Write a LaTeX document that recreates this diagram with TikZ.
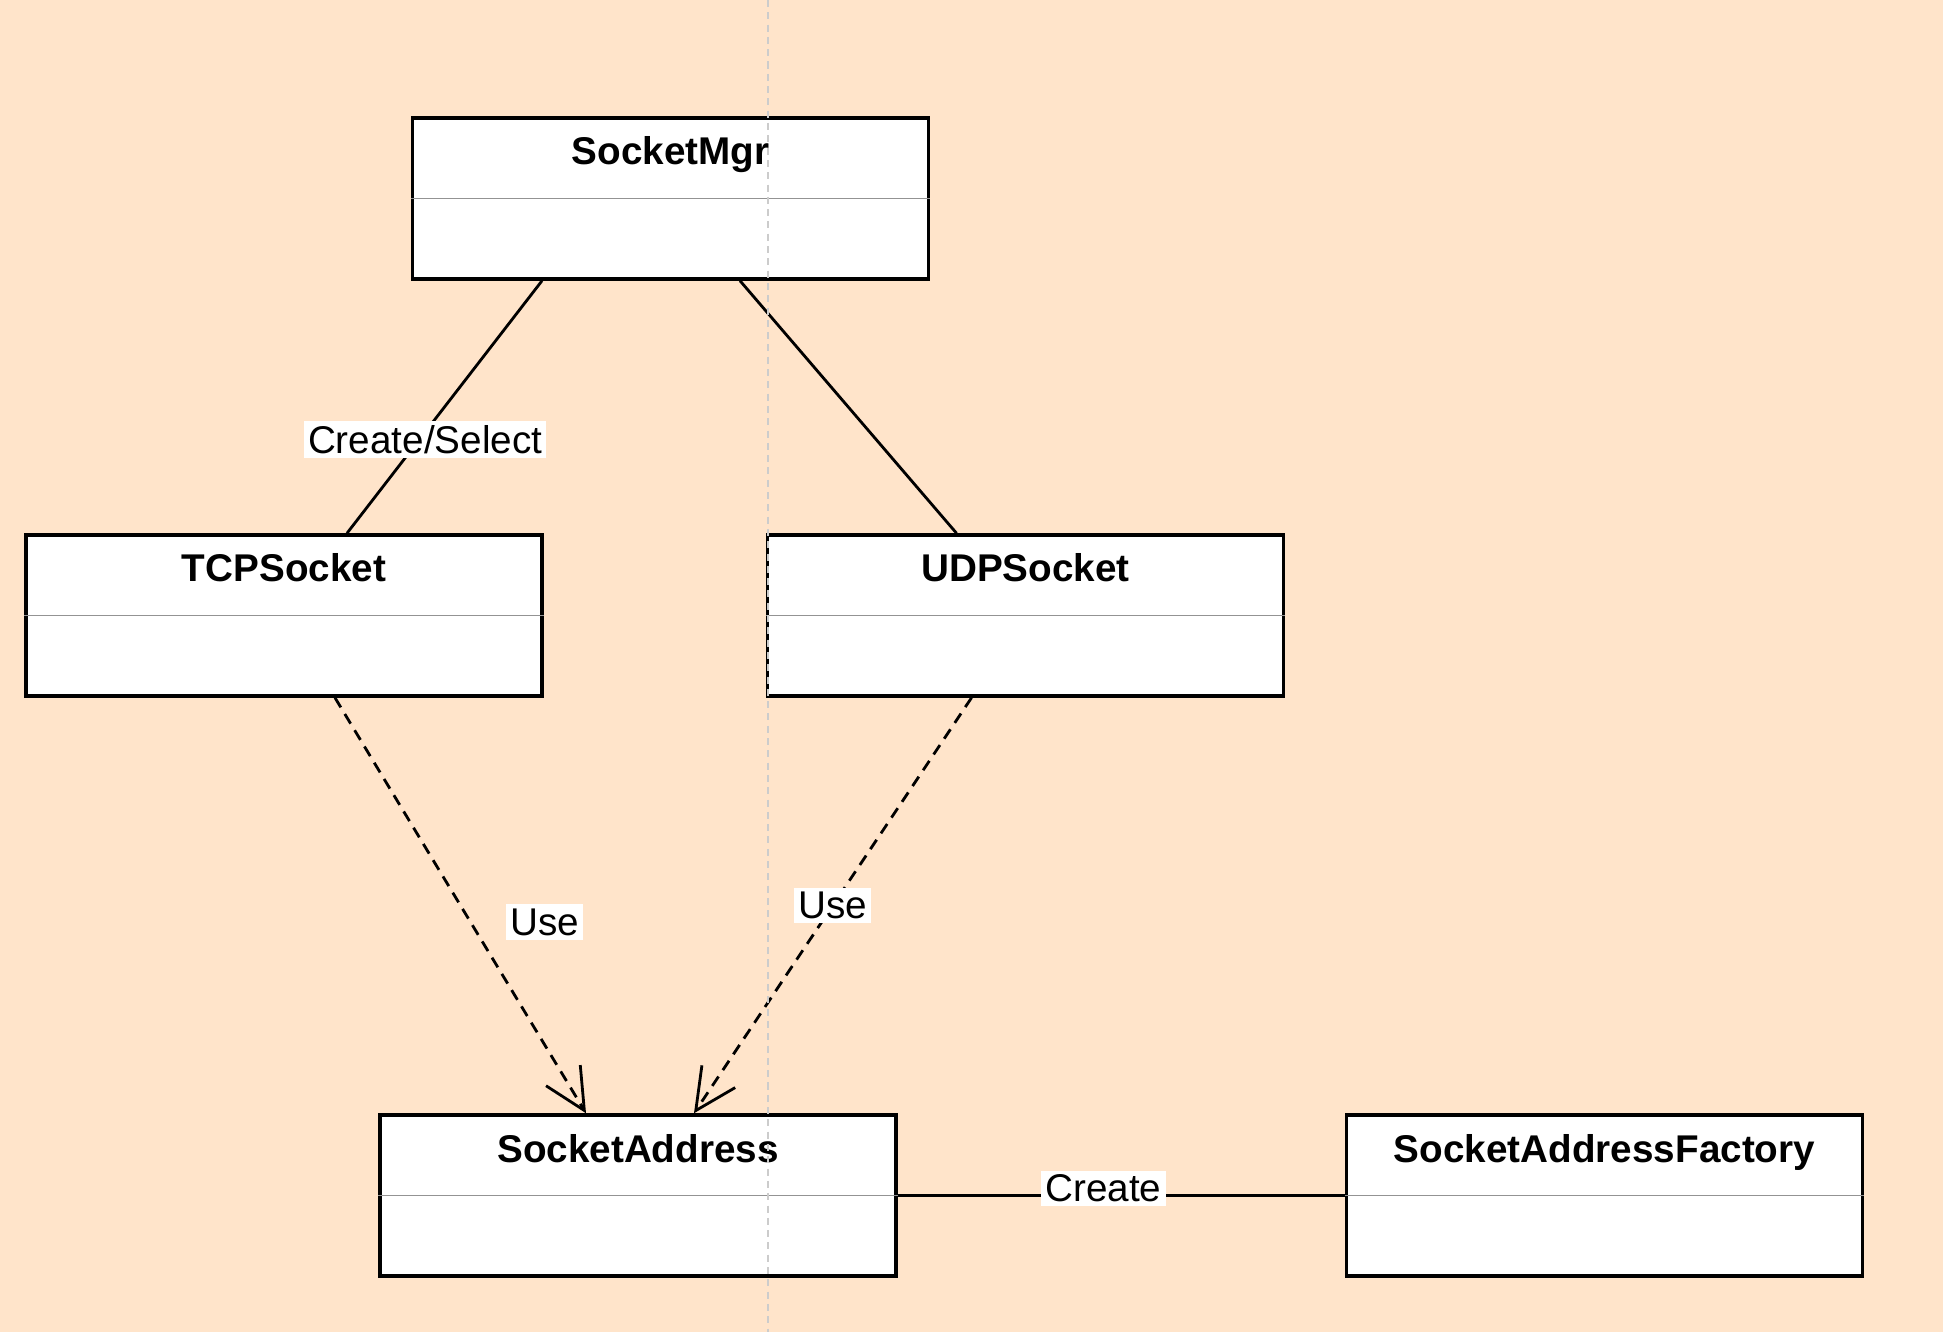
\documentclass[tikz,border=0pt]{standalone}
\usepackage{fontspec}
\setmainfont{Liberation Sans}
\usetikzlibrary{arrows.meta, positioning}
\definecolor{paper}{RGB}{255,228,202}

\begin{document}
\begin{tikzpicture}[font=\fontsize{11pt}{13pt}\selectfont,
  cls/.style={draw, line width=1pt, fill=white, minimum width=5.16cm, inner xsep=0pt, inner ysep=1.9mm,
    text height=2.8mm, text depth=9.5mm, font=\fontsize{11pt}{13pt}\selectfont\bfseries},
  divider/.style={gray!85, line width=0.5pt},
  assoc/.style={line width=0.8pt},
  uses/.style={line width=0.8pt, dash pattern=on 3.2pt off 2.2pt,
    -{Straight Barb[length=4.1mm, width=4mm, line width=0.8pt]}},
  tag/.style={fill=white, inner sep=1.2pt}]
\fill[paper] (0,0) rectangle (19.43,-13.32);
\useasboundingbox (0,0) rectangle (19.43,-13.32);

\node[cls] (mgr) at (6.705,-1.985) {SocketMgr};
\node[cls] (tcp) at (2.84,-6.155) {TCPSocket};
\node[cls, right=2.22cm of tcp] (udp) {UDPSocket};
\node[cls] (addr) at (6.38,-11.955) {SocketAddress};
\node[cls, right=4.47cm of addr] (factory) {SocketAddressFactory};

% compartment lines
\foreach \c in {mgr, tcp, udp, addr, factory}
  \draw[divider] (\c.west) -- (\c.east);

\draw[assoc] ([xshift=-1.285cm]mgr.south) -- ([xshift=0.63cm]tcp.north)
   node[tag, pos=0.63, xshift=0.06cm] {Create/Select};
\draw[assoc] ([xshift=0.695cm]mgr.south) -- ([xshift=-0.69cm]udp.north);
\draw[uses] ([xshift=0.51cm]tcp.south) -- ([xshift=-0.52cm]addr.north)
   node[tag, pos=0.54, xshift=0.74cm] {Use};
\draw[uses] ([xshift=-0.54cm]udp.south) -- ([xshift=0.56cm]addr.north)
   node[tag, pos=0.5] {Use};
\draw[assoc] (addr.east) -- (factory.west)
   node[tag, pos=0.46, yshift=0.07cm] {Create};

% page break
\coordinate (pagetop) at (7.68,0);
\coordinate (pagebot) at (7.68,-13.32);
\draw[gray!40, line width=0.4pt, dash pattern=on 2pt off 1.5pt] (pagetop) -- (pagebot);
\end{tikzpicture}
\end{document}
